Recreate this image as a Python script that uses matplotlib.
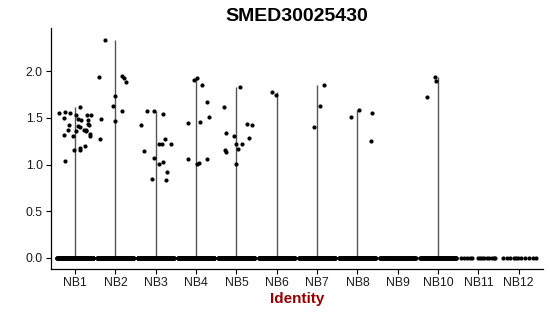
import numpy as np
import matplotlib
matplotlib.use("Agg")
import matplotlib.pyplot as plt

plt.rcParams['font.family'] = ['Liberation Sans', 'DejaVu Sans']

gene = "SMED30025430"
clusters = ["NB1", "NB2", "NB3", "NB4", "NB5", "NB6",
            "NB7", "NB8", "NB9", "NB10", "NB11", "NB12"]

# non-zero expression values per cluster, with the jitter offset
nb1_vals = [1.55, 1.565, 1.555, 1.50, 1.53, 1.615, 1.53, 1.53, 1.42, 1.37,
            1.315, 1.30, 1.04, 1.15, 1.175, 1.15, 1.20, 1.41, 1.40, 1.36,
            1.37, 1.355, 1.37, 1.43, 1.48, 1.49, 1.48, 1.305, 1.33, 1.425]
nb1_jit = [-0.41, -0.26, -0.12, -0.28, 0.01, 0.12, 0.29, 0.39, -0.16, -0.18,
           -0.27, -0.05, -0.26, -0.03, 0.11, 0.12, 0.25, 0.06, 0.13, 0.02,
           0.22, 0.28, 0.27, 0.33, 0.32, 0.08, 0.14, 0.38, 0.37, 0.35]
nb2_vals = [1.935, 2.335, 1.49, 1.27, 1.63, 1.73, 1.47, 1.57, 1.945, 1.93, 1.88]
nb2_jit = [-0.40, -0.27, -0.37, -0.38, -0.06, -0.02, -0.01, 0.17, 0.17, 0.22, 0.25]
nb3_vals = [1.42, 1.14, 1.57, 1.57, 1.54, 1.07, 0.85, 1.005, 1.215, 1.215,
            1.275, 1.22, 1.03, 0.915, 0.835]
nb3_jit = [-0.37, -0.30, -0.21, -0.05, 0.17, -0.05, -0.09, 0.08, 0.08, 0.16,
           0.22, 0.38, 0.17, 0.27, 0.26]
nb4_vals = [1.445, 1.055, 1.90, 1.93, 1.85, 1.665, 1.51, 1.46, 1.005, 1.02, 1.055]
nb4_jit = [-0.21, -0.19, -0.05, 0.01, 0.15, 0.26, 0.32, 0.10, 0.01, 0.06, 0.26]
nb5_vals = [1.615, 1.34, 1.15, 1.13, 1.305, 1.22, 1.17, 1.22, 1.005, 1.83,
            1.435, 1.42, 1.285]
nb5_jit = [-0.30, -0.26, -0.28, -0.26, -0.06, -0.02, 0.05, 0.14, 0.00, 0.09,
           0.27, 0.39, 0.32]
nb6_vals = [1.78, 1.74]
nb6_jit = [-0.12, -0.03]
nb7_vals = [1.40, 1.63, 1.855]
nb7_jit = [-0.08, 0.07, 0.17]
nb8_vals = [1.51, 1.58, 1.55, 1.25]
nb8_jit = [-0.17, 0.04, 0.37, 0.34]
nb9_vals = []
nb9_jit = []
nb10_vals = [1.72, 1.94, 1.89]
nb10_jit = [-0.28, -0.07, -0.04]
nb11_vals = []
nb11_jit = []
nb12_vals = []
nb12_jit = []

# number of cells with zero expression per cluster
zero_counts = [300, 260, 240, 240, 220, 160, 180, 170, 90, 110, 14, 11]

# sparse zero clusters: jitter offsets
nb11_zero_jit = [-0.42, -0.36, -0.29, -0.20, -0.16, -0.01, 0.04, 0.10,
                 0.15, 0.22, 0.27, 0.33, 0.38, 0.42]
nb12_zero_jit = [-0.40, -0.30, -0.22, -0.12, -0.07, -0.02, 0.07, 0.16,
                 0.26, 0.36, 0.42]

nz_vals = [nb1_vals, nb2_vals, nb3_vals, nb4_vals, nb5_vals, nb6_vals,
           nb7_vals, nb8_vals, nb9_vals, nb10_vals, nb11_vals, nb12_vals]
nz_jit = [nb1_jit, nb2_jit, nb3_jit, nb4_jit, nb5_jit, nb6_jit,
          nb7_jit, nb8_jit, nb9_jit, nb10_jit, nb11_jit, nb12_jit]
zero_jit = {"NB11": nb11_zero_jit, "NB12": nb12_zero_jit}

fig = plt.figure(figsize=(5.5, 3.16), dpi=100)
ax = fig.add_axes([0.0927, 0.1487, 0.8943, 0.7626])

for i, name in enumerate(clusters):
    x = i + 1
    # violin collapses to a thin line from 0 to the max value
    if len(nz_vals[i]) > 0:
        ax.vlines(x, 0, max(nz_vals[i]), color='#555555', lw=1.0, zorder=1)
    if name in zero_jit:
        zx = x + np.array(zero_jit[name])
    else:
        zx = x + np.linspace(-0.45, 0.45, zero_counts[i])
    ax.scatter(zx, np.zeros(len(zx)), s=9, color='black', lw=0, zorder=2)
    if len(nz_vals[i]) > 0:
        ax.scatter(x + np.array(nz_jit[i]), nz_vals[i], s=9, color='black',
                   lw=0, zorder=3)

ax.set_xlim(0.4, 12.6)
ax.set_ylim(-0.118, 2.46)
ax.set_xticks(range(1, len(clusters) + 1))
ax.set_xticklabels(clusters)
ax.set_yticks([0.0, 0.5, 1.0, 1.5, 2.0])
ax.set_yticklabels(["0.0", "0.5", "1.0", "1.5", "2.0"])
ax.tick_params(axis='both', labelsize=8.8, length=3.5, width=0.8,
               color='black', labelcolor='#1a1a1a', pad=2.5)

for side in ['top', 'right']:
    ax.spines[side].set_visible(False)
for side in ['left', 'bottom']:
    ax.spines[side].set_linewidth(0.9)
    ax.spines[side].set_color('black')

ax.set_title(gene, fontsize=14, fontweight='bold', pad=5)
ax.set_xlabel("Identity", fontsize=11, fontweight='bold', color='#990000',
              labelpad=2)

fig.savefig("out.png", dpi=100)
